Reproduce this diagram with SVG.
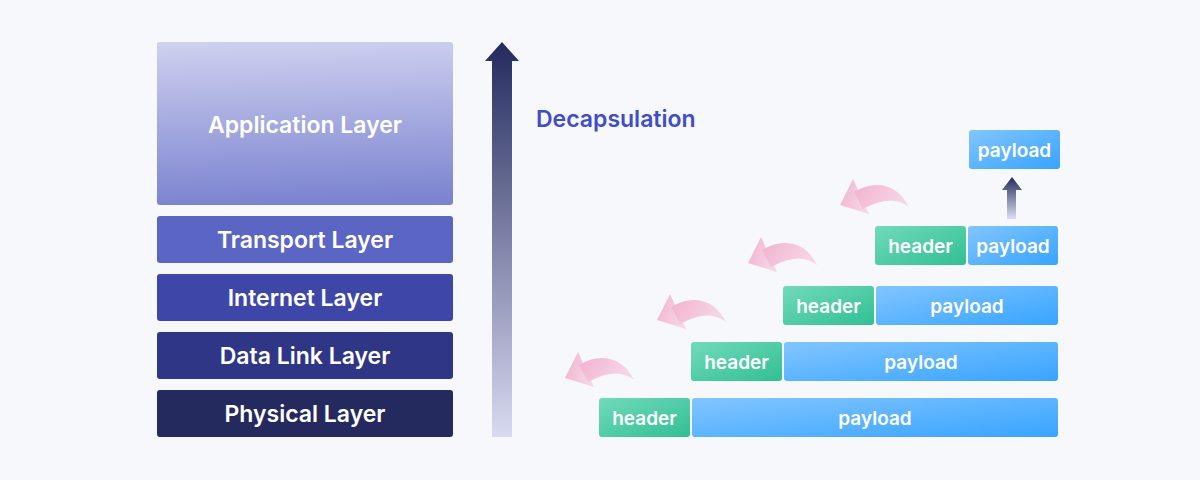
<svg xmlns="http://www.w3.org/2000/svg" width="1200" height="480" viewBox="0 0 1200 480">
<defs>
<linearGradient id="gApp" x1="0" y1="0" x2="0.05" y2="1">
<stop offset="0" stop-color="#CFD1EF"/><stop offset="1" stop-color="#7C84D0"/>
</linearGradient>
<linearGradient id="gBig" x1="0" y1="0" x2="0" y2="1">
<stop offset="0" stop-color="#242A5E"/><stop offset="1" stop-color="#D7DAF0"/>
</linearGradient>
<linearGradient id="gSmall" x1="0" y1="0" x2="0" y2="1">
<stop offset="0" stop-color="#242A5E"/><stop offset="1" stop-color="#DCDFF2"/>
</linearGradient>
<linearGradient id="gHead" x1="0" y1="0" x2="1" y2="1">
<stop offset="0" stop-color="#72DABB"/><stop offset="1" stop-color="#31BF93"/>
</linearGradient>
<linearGradient id="gPay" x1="0" y1="0" x2="1" y2="1">
<stop offset="0" stop-color="#82C5FF"/><stop offset="1" stop-color="#38A4FF"/>
</linearGradient>
<linearGradient id="gPink" x1="0" y1="0" x2="1" y2="0.3">
<stop offset="0" stop-color="#F2B2CF"/><stop offset="1" stop-color="#F6D6E6"/>
</linearGradient>
<g id="pink">
<path d="M13,0 L0,26 L29,35 Z"/>
<path d="M14,13 C35,0 58,5 69,28 C58,19 44,19 23,30 Z"/>
</g>
</defs>
<style>
.lbl{font-family:Inter,"Noto Sans",sans-serif;font-weight:600;fill:#FFFFFF;text-anchor:middle;dominant-baseline:central}
.big{font-size:23px}
.app{font-size:23px;font-weight:600}
.pk{font-size:19px}
</style>
<rect width="1200" height="480" fill="#F7F8FC"/>
<g id="application-layer"><rect x="157" y="42" width="296" height="163" rx="3" fill="url(#gApp)"/><text class="lbl app" x="305" y="125">Application Layer</text></g>
<g id="transport-layer"><rect x="157" y="216" width="296" height="47" rx="3" fill="#5B65C4"/><text class="lbl big" x="305" y="240">Transport Layer</text></g>
<g id="internet-layer"><rect x="157" y="274" width="296" height="47" rx="3" fill="#3E47A8"/><text class="lbl big" x="305" y="298">Internet Layer</text></g>
<g id="datalink-layer"><rect x="157" y="332" width="296" height="47" rx="3" fill="#2E3685"/><text class="lbl big" x="305" y="356">Data Link Layer</text></g>
<g id="physical-layer"><rect x="157" y="390" width="296" height="47" rx="3" fill="#242A5E"/><text class="lbl big" x="305" y="414">Physical Layer</text></g>
<g id="connectors">
<path d="M502,42 L519,61 L512,61 L512,437 L492,437 L492,61 L485,61 Z" fill="url(#gBig)"/>
<path d="M1012,177 L1022,190 L1016,190 L1016,219 L1007,219 L1007,190 L1002,190 Z" fill="url(#gSmall)"/>
<use href="#pink" x="565" y="352" fill="url(#gPink)"/>
<use href="#pink" x="657" y="294" fill="url(#gPink)"/>
<use href="#pink" x="748" y="237" fill="url(#gPink)"/>
<use href="#pink" x="840" y="179" fill="url(#gPink)"/>
</g>
<text x="536" y="119" font-family="Inter,'Noto Sans',sans-serif" font-size="23" font-weight="600" fill="#3F4DCB" dominant-baseline="central">Decapsulation</text>
<g id="packet-1">
<rect x="599" y="398" width="91" height="39" rx="3" fill="url(#gHead)"/><text class="lbl pk" x="644.5" y="418">header</text>
<rect x="692" y="398" width="366" height="39" rx="3" fill="url(#gPay)"/><text class="lbl pk" x="875" y="418">payload</text>
</g>
<g id="packet-2">
<rect x="691" y="342" width="91" height="39" rx="3" fill="url(#gHead)"/><text class="lbl pk" x="736.5" y="362">header</text>
<rect x="784" y="342" width="274" height="39" rx="3" fill="url(#gPay)"/><text class="lbl pk" x="921" y="362">payload</text>
</g>
<g id="packet-3">
<rect x="783" y="286" width="91" height="39" rx="3" fill="url(#gHead)"/><text class="lbl pk" x="828.5" y="306">header</text>
<rect x="876" y="286" width="182" height="39" rx="3" fill="url(#gPay)"/><text class="lbl pk" x="967" y="306">payload</text>
</g>
<g id="packet-4">
<rect x="875" y="226" width="91" height="39" rx="3" fill="url(#gHead)"/><text class="lbl pk" x="920.5" y="246">header</text>
<rect x="968" y="226" width="90" height="39" rx="3" fill="url(#gPay)"/><text class="lbl pk" x="1013" y="246">payload</text>
</g>
<g id="payload-top">
<rect x="969" y="130" width="91" height="39" rx="3" fill="url(#gPay)"/><text class="lbl pk" x="1014.5" y="150">payload</text>
</g>
</svg>
